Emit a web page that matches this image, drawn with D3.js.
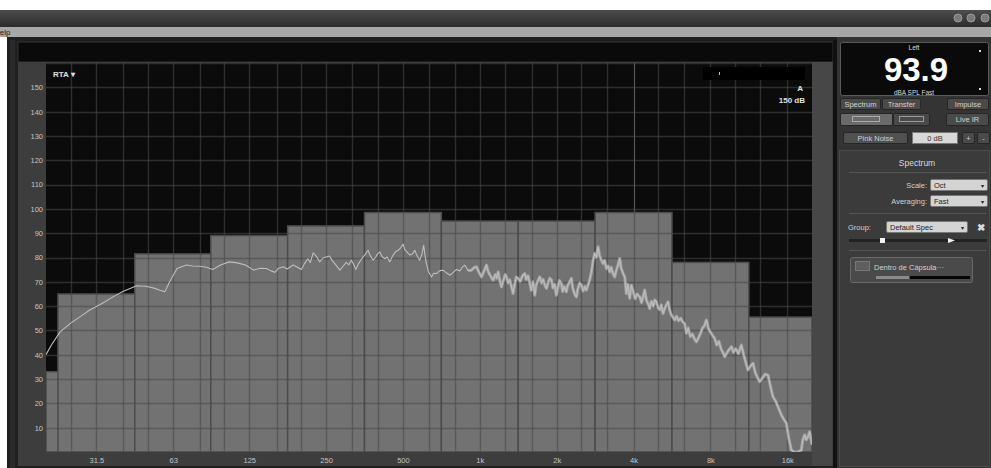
<!DOCTYPE html>
<html>
<head>
<meta charset="utf-8">
<script src="https://cdn.jsdelivr.net/npm/d3@7"></script>
<style>
  html, body { margin: 0; padding: 0; background: #ffffff; }
  svg { display: block; font-family: "Liberation Sans", Arial, sans-serif; }
</style>
</head>
<body>
<svg id="app" width="991" height="468"></svg>
<script>
// Octave band centres (Hz) and their RTA levels (dB)
const bandCenters = [16, 31.5, 63, 125, 250, 500, 1000, 2000, 4000, 8000, 16000];
const bandLevels  = [33, 65, 81.5, 89, 93, 98.5, 95, 95, 98.5, 78, 55.5];

// Frequency-axis labels and their positions
const xTickValues = [31.5, 63, 125, 250, 500, 1000, 2000, 4000, 8000, 16000];
const xTickLabels = ["31.5", "63", "125", "250", "500", "1k", "2k", "4k", "8k", "16k"];

// Level-axis labels
const yTickValues = [10, 20, 30, 40, 50, 60, 70, 80, 90, 100, 110, 120, 130, 140, 150];

// Third-octave grid frequencies
const gridFreqs = [25, 31.5, 40, 50, 63, 80, 100, 125, 160, 200, 250, 315, 400, 500, 630, 800,
  1000, 1250, 1600, 2000, 2500, 3150, 4000, 5000, 6300, 8000, 10000, 12500, 16000];

// Narrow-band spectrum trace: frequency (Hz) and level (dB)
const traceFreq = [20, 21, 22.7, 25, 27.5, 29.7, 33, 36.6, 40, 45.3, 49, 52.6, 56, 58.4, 61, 65.2, 71, 75, 80, 85,
  90, 97, 104.6, 112, 121, 130, 138, 146, 152, 157.6, 163, 169.8, 176, 185.9, 191.6, 200, 206, 212, 217, 222.5,
  229, 236, 243, 250, 258, 265, 272, 283, 292, 300, 307, 314, 320, 327, 335, 345, 355, 365, 372, 382,
  390, 398, 406, 414, 425, 434, 444, 455, 468, 480, 490, 500.8, 508, 516, 532, 545, 556, 569, 582, 592,
  603, 610, 618, 630, 647, 660, 676, 695, 718, 740, 763, 785, 810, 835, 855, 873, 900, 928, 950, 970,
  992, 1015, 1040, 1062, 1080, 1100, 1128, 1150, 1165, 1180, 1198, 1216, 1240, 1258, 1272, 1290, 1310, 1330, 1350, 1370,
  1390, 1413, 1440, 1470, 1500, 1520, 1545, 1570, 1590, 1615, 1642, 1660, 1690, 1717, 1745, 1770, 1800, 1824, 1850, 1880,
  1908, 1935, 1960, 1995, 2020, 2050, 2087, 2110, 2140, 2183, 2210, 2250, 2285, 2310, 2350, 2390, 2420, 2460, 2500, 2540,
  2580, 2615, 2650, 2690, 2736, 2775, 2819, 2860, 2905, 2950, 2990, 3039, 3080, 3130, 3180, 3227, 3270, 3320, 3376, 3420,
  3480, 3532, 3580, 3640, 3695, 3750, 3800, 3865, 3924, 3990, 4060, 4130, 4230, 4300, 4360, 4424, 4490, 4560, 4628, 4700,
  4780, 4840, 4913, 4990, 5070, 5140, 5220, 5300, 5380, 5460, 5540, 5620, 5700, 5800, 5900, 6000, 6120, 6230, 6342, 6441,
  6550, 6680, 6800, 6930, 7053, 7190, 7330, 7450, 7580, 7717, 7850, 7980, 8150, 8315, 8480, 8640, 8800, 8950, 9101, 9250,
  9450, 9669, 9850, 10050, 10300, 10580, 10800, 11000, 11232, 11500, 11749, 12000, 12250, 12480, 12800, 13100, 13450, 13750, 14067, 14400,
  14800, 15170, 15500, 15870, 16200, 16600, 17000, 17600, 18170, 18400, 18720, 19000, 19290, 19580, 20000];
const traceDb = [40, 44, 49.4, 53, 56, 58.4, 61, 63.8, 66, 68.4, 68.2, 67.5, 66.5, 65.9, 70, 75.5, 76.9, 76.5, 76.4, 76,
  75.1, 77, 78.2, 77.8, 76.9, 74.8, 75.6, 75.5, 74.5, 73.9, 75.6, 76.2, 75.3, 76.9, 76.2, 75.1, 77.5, 79.5, 78, 81.9,
  80.5, 78.2, 79.8, 80.2, 80.6, 78.5, 77.2, 74.8, 76.5, 78, 77, 78.9, 77.3, 75.1, 77.5, 79.5, 81.2, 83, 80.8, 78.9,
  80, 81.5, 82.3, 80.4, 79.5, 80.2, 78.2, 80.5, 82.5, 83, 84, 85.5, 83.2, 82.5, 81, 81.5, 83, 80.5, 78.9, 81,
  85, 81, 77.5, 74, 72, 73.5, 73.4, 74.5, 74.8, 73.7, 72.7, 73.8, 75.1, 74.5, 76, 76.9, 74.6, 74.8, 75.8, 76.2,
  74, 72, 74.5, 76.9, 74, 72.5, 70.7, 73, 71.5, 74.1, 70.5, 67.9, 71, 73, 72, 69.5, 70.8, 68, 65.2, 69,
  72, 71.4, 70.2, 72.5, 73.4, 71, 72.5, 69.3, 66.5, 70, 64.5, 68.5, 70.5, 72, 69.5, 71, 68.5, 67.3, 69.5, 71.5,
  70.7, 67.5, 69, 64.5, 67.5, 70.5, 69.3, 66, 68, 65.9, 68.5, 70, 71.4, 67.5, 65, 63.8, 67, 69.5, 68.6, 66.2,
  68, 66.6, 68.5, 70.5, 74.1, 78.5, 81.7, 80, 84.4, 80.5, 79, 77.5, 78.8, 75.5, 76.5, 74.1, 76, 73.5, 72, 74.5,
  77, 79.6, 75.5, 73.5, 72, 65.2, 69, 63.2, 68.6, 66, 63, 65, 63.8, 61.5, 64, 66.6, 62.5, 61, 59, 62,
  60, 62.5, 61.8, 59.5, 58.5, 60.5, 57, 59, 60.5, 61.8, 58.5, 56.5, 55.5, 54.3, 55.8, 54, 55, 53.5, 52.9, 48.8,
  51, 47.5, 48.5, 46.5, 45.3, 47, 49, 51, 52, 54.3, 51, 49.5, 48, 46.7, 44, 45.5, 42.5, 41, 39.2, 40.5,
  42, 43.3, 41, 42.5, 40.5, 44, 40, 37, 33.7, 35.5, 36.5, 32.5, 30.5, 28.9, 30.5, 32, 31.6, 27, 22.7, 21,
  18, 15.2, 13.5, 11.8, 6, 0.8, 0, 0, 0.8, 5, 7, 5, 6.3, 8.3, 3];

// Cursor frequency shown on the RTA plot
const cursorFreq = 4000;

// Above this frequency the trace is dense and drawn as a wider band
const denseFrom = 900;

const svg = d3.select("#app");

// ---------- window chrome ----------
const defs = svg.append("defs");
const chromeGrad = defs.append("linearGradient")
  .attr("id", "titleGrad").attr("x1", 0).attr("y1", 0).attr("x2", 0).attr("y2", 1);
chromeGrad.append("stop").attr("offset", "0%").attr("stop-color", "#4d4d4d");
chromeGrad.append("stop").attr("offset", "100%").attr("stop-color", "#2b2b2b");

svg.append("rect").attr("x", 0).attr("y", 0).attr("width", 991).attr("height", 468).attr("fill", "#ffffff");
svg.append("rect").attr("x", 0).attr("y", 10).attr("width", 991).attr("height", 17).attr("fill", "url(#titleGrad)");
[958, 971, 985].forEach(cx => {
  svg.append("circle").attr("cx", cx).attr("cy", 18).attr("r", 4)
    .attr("fill", "#7a7a7a").attr("stroke", "#9a9a9a").attr("stroke-width", 1);
});
svg.append("rect").attr("x", 0).attr("y", 27).attr("width", 991).attr("height", 10).attr("fill", "#a7a7a7");
svg.append("text").attr("x", -6).attr("y", 35).attr("font-size", 8).attr("fill", "#222").text("Help");

// application body
svg.append("rect").attr("x", 7).attr("y", 37).attr("width", 984).attr("height", 431).attr("fill", "#1f1f1f");
svg.append("rect").attr("x", 10).attr("y", 40).attr("width", 5).attr("height", 428).attr("fill", "#2a2a2a");

// ---------- RTA plot ----------
const plot = { left: 46, right: 812, top: 63, bottom: 452 };

const x = d3.scaleLog().domain([20, 20000]).range([plot.left, plot.right]);
const y = d3.scaleLinear().domain([0, 160]).range([plot.bottom, plot.top]);

// frame around the plot (header bar + axis strips)
svg.append("rect").attr("x", 18).attr("y", 42).attr("width", 815).attr("height", 20)
  .attr("fill", "#0a0a0a").attr("stroke", "#333").attr("stroke-width", 1);
svg.append("rect").attr("x", 18).attr("y", 62).attr("width", 815).attr("height", 404).attr("fill", "#3d3d3d");
svg.append("rect").attr("x", plot.right).attr("y", 62).attr("width", 20).attr("height", 404).attr("fill", "#474747");
svg.append("rect").attr("x", 833).attr("y", 40).attr("width", 4).attr("height", 428).attr("fill", "#111");

// plot background
svg.append("rect").attr("x", plot.left).attr("y", plot.top)
  .attr("width", plot.right - plot.left).attr("height", plot.bottom - plot.top).attr("fill", "#0b0b0b");

defs.append("clipPath").attr("id", "plotClip").append("rect")
  .attr("x", plot.left).attr("y", plot.top)
  .attr("width", plot.right - plot.left).attr("height", plot.bottom - plot.top);

const g = svg.append("g").attr("clip-path", "url(#plotClip)");

// octave-band bars
const bands = bandCenters.map((c, i) => ({
  lo: Math.max(20, c / Math.SQRT2),
  hi: Math.min(20000, c * Math.SQRT2),
  level: bandLevels[i]
}));
g.selectAll("rect.band").data(bands).join("rect")
  .attr("class", "band")
  .attr("x", d => x(d.lo))
  .attr("y", d => y(d.level))
  .attr("width", d => x(d.hi) - x(d.lo))
  .attr("height", d => y(0) - y(d.level))
  .attr("fill", "#727272")
  .attr("stroke", "#4c4c4c")
  .attr("stroke-width", 1.5);

// grid, drawn over the bars so it reads on both black and grey
const gridColor = "rgba(72,72,72,0.58)";
g.selectAll("line.vgrid").data(gridFreqs).join("line")
  .attr("class", "vgrid")
  .attr("x1", d => Math.round(x(d)) + 0.5).attr("x2", d => Math.round(x(d)) + 0.5)
  .attr("y1", plot.top).attr("y2", plot.bottom)
  .attr("stroke", gridColor).attr("stroke-width", 1.4);
g.selectAll("line.hgrid").data(d3.range(10, 161, 10)).join("line")
  .attr("class", "hgrid")
  .attr("x1", plot.left).attr("x2", plot.right)
  .attr("y1", d => Math.round(y(d)) + 0.5).attr("y2", d => Math.round(y(d)) + 0.5)
  .attr("stroke", gridColor).attr("stroke-width", 1.4);

// cursor marker at 4 kHz, above its band
const cursorBand = bands[bandCenters.indexOf(cursorFreq)];
g.append("line")
  .attr("x1", Math.round(x(cursorFreq)) + 0.5).attr("x2", Math.round(x(cursorFreq)) + 0.5)
  .attr("y1", plot.top).attr("y2", y(cursorBand.level))
  .attr("stroke", "#575757").attr("stroke-width", 1);

// spectrum trace
const trace = traceFreq.map((f, i) => [f, traceDb[i]]);
const lineGen = d3.line().x(d => x(d[0])).y(d => y(d[1]));
g.append("path").datum(trace.filter(d => d[0] >= denseFrom))
  .attr("fill", "none")
  .attr("stroke", "#c9c9c9")
  .attr("stroke-opacity", 0.55)
  .attr("stroke-width", 3)
  .attr("stroke-linejoin", "round")
  .attr("d", lineGen);
g.append("path").datum(trace)
  .attr("fill", "none")
  .attr("stroke", "#bdbdbd")
  .attr("stroke-width", 1.1)
  .attr("stroke-linejoin", "round")
  .attr("d", lineGen);

// axes
const yAxis = svg.append("g").attr("transform", `translate(${plot.left - 3},0)`)
  .call(d3.axisLeft(y).tickValues(yTickValues).tickSize(0).tickPadding(0));
const xAxis = svg.append("g").attr("transform", `translate(0,${plot.bottom + 1})`)
  .call(d3.axisBottom(x).tickValues(xTickValues).tickSize(0).tickPadding(5)
    .tickFormat((d, i) => xTickLabels[i]));
[yAxis, xAxis].forEach(a => {
  a.select(".domain").remove();
  a.selectAll("text").attr("fill", "#c4c4c4").attr("font-size", 7.5)
    .attr("font-family", "'Liberation Sans', Arial, sans-serif");
});

// in-plot annotations
svg.append("text").attr("x", 53).attr("y", 77).attr("font-size", 8).attr("font-weight", "bold")
  .attr("fill", "#e0e0e0").text("RTA ▾");
svg.append("rect").attr("x", 703).attr("y", 67).attr("width", 102).attr("height", 13).attr("fill", "#000");
svg.append("rect").attr("x", 719).attr("y", 72).attr("width", 1).attr("height", 3).attr("fill", "#bbb");
svg.append("text").attr("x", 803).attr("y", 91).attr("text-anchor", "end").attr("font-size", 8)
  .attr("font-weight", "bold").attr("fill", "#e0e0e0").text("A");
svg.append("text").attr("x", 805).attr("y", 103).attr("text-anchor", "end").attr("font-size", 8)
  .attr("font-weight", "bold").attr("fill", "#e0e0e0").text("150 dB");

// ---------- right-hand control panel ----------
const panel = svg.append("g");
panel.append("rect").attr("x", 837).attr("y", 37).attr("width", 154).attr("height", 431).attr("fill", "#343434");

// level readout
panel.append("rect").attr("x", 840.5).attr("y", 42.5).attr("width", 148).attr("height", 53).attr("rx", 2)
  .attr("fill", "#0a0a0a").attr("stroke", "#5a5a5a");
panel.append("text").attr("x", 914).attr("y", 50).attr("text-anchor", "middle").attr("font-size", 6.5)
  .attr("fill", "#ddd").text("Left");
panel.append("text").attr("x", 916).attr("y", 81).attr("text-anchor", "middle").attr("font-size", 33)
  .attr("font-weight", "bold").attr("fill", "#fff").text("93.9");
panel.append("text").attr("x", 914).attr("y", 94.5).attr("text-anchor", "middle").attr("font-size", 6.5)
  .attr("fill", "#ddd").text("dBA SPL Fast");
panel.append("rect").attr("x", 979).attr("y", 50).attr("width", 2).attr("height", 2).attr("fill", "#ddd");
panel.append("rect").attr("x", 979).attr("y", 88).attr("width", 2).attr("height", 2).attr("fill", "#ddd");

// helper for flat buttons
function button(x0, y0, w, h, label, fill, txt) {
  panel.append("rect").attr("x", x0 + 0.5).attr("y", y0 + 0.5).attr("width", w).attr("height", h)
    .attr("rx", 1.5).attr("fill", fill).attr("stroke", "#262626");
  if (label) panel.append("text").attr("x", x0 + w / 2 + 0.5).attr("y", y0 + h / 2 + 3)
    .attr("text-anchor", "middle").attr("font-size", 7.5).attr("fill", txt || "#d0d0d0").text(label);
}
button(840, 98, 40, 11, "Spectrum", "#4a4a4a");
button(882, 98, 38, 11, "Transfer", "#4a4a4a");
button(947, 98, 41, 11, "Impulse", "#4a4a4a");

button(840, 113, 52, 12, "", "#6a6a6a");
panel.append("rect").attr("x", 852.5).attr("y", 116.5).attr("width", 27).attr("height", 5)
  .attr("fill", "none").attr("stroke", "#aaa");
button(893, 113, 36, 12, "", "#4a4a4a");
panel.append("rect").attr("x", 899.5).attr("y", 116.5).attr("width", 24).attr("height", 5)
  .attr("fill", "none").attr("stroke", "#999");
button(946, 113, 42, 12, "Live IR", "#4a4a4a");

button(843, 132, 64, 11, "Pink Noise", "#505050");
panel.append("rect").attr("x", 912.5).attr("y", 132.5).attr("width", 45).attr("height", 11)
  .attr("fill", "#d8d8d8").attr("stroke", "#777");
panel.append("text").attr("x", 935).attr("y", 141).attr("text-anchor", "middle").attr("font-size", 7.5)
  .attr("fill", "#333").text("0 dB");
button(962, 132, 12, 11, "+", "#4a4a4a");
button(977, 132, 12, 11, "-", "#4a4a4a");

// spectrum settings group
panel.append("rect").attr("x", 839.5).attr("y", 150.5).attr("width", 150).attr("height", 316)
  .attr("fill", "#3b3b3b").attr("stroke", "#4a4a4a");
panel.append("text").attr("x", 917).attr("y", 166).attr("text-anchor", "middle").attr("font-size", 8.5)
  .attr("fill", "#d8d8d8").text("Spectrum");
[172, 213, 250].forEach(yy => {
  panel.append("line").attr("x1", 849).attr("x2", 987).attr("y1", yy + 0.5).attr("y2", yy + 0.5)
    .attr("stroke", "#555");
});

function dropdown(x0, y0, w, label) {
  panel.append("rect").attr("x", x0 + 0.5).attr("y", y0 + 0.5).attr("width", w).attr("height", 11)
    .attr("rx", 1.5).attr("fill", "#d4d4d4").attr("stroke", "#777");
  panel.append("text").attr("x", x0 + 4).attr("y", y0 + 9).attr("font-size", 7.5).attr("fill", "#222").text(label);
  panel.append("text").attr("x", x0 + w - 6).attr("y", y0 + 9).attr("font-size", 6).attr("fill", "#222").text("▾");
}
panel.append("text").attr("x", 927).attr("y", 188).attr("text-anchor", "end").attr("font-size", 7.5)
  .attr("fill", "#d0d0d0").text("Scale:");
dropdown(930, 179, 57, "Oct");
panel.append("text").attr("x", 927).attr("y", 204).attr("text-anchor", "end").attr("font-size", 7.5)
  .attr("fill", "#d0d0d0").text("Averaging:");
dropdown(930, 195, 57, "Fast");

panel.append("text").attr("x", 848).attr("y", 230).attr("font-size", 7.5).attr("fill", "#d0d0d0").text("Group:");
dropdown(886, 221, 81, "Default Spec");
panel.append("text").attr("x", 981).attr("y", 231).attr("text-anchor", "middle").attr("font-size", 10)
  .attr("font-weight", "bold").attr("fill", "#ddd").text("✖");

panel.append("line").attr("x1", 849).attr("x2", 987).attr("y1", 240.5).attr("y2", 240.5)
  .attr("stroke", "#222").attr("stroke-width", 3);
panel.append("rect").attr("x", 880).attr("y", 238).attr("width", 5).attr("height", 5).attr("fill", "#f2f2f2");
panel.append("path").attr("d", "M948,238 L955,240.5 L948,243 Z").attr("fill", "#f2f2f2");

// measurement entry
panel.append("rect").attr("x", 850.5).attr("y", 257.5).attr("width", 122).attr("height", 25).attr("rx", 2)
  .attr("fill", "#4a4a4a").attr("stroke", "#6a6a6a");
panel.append("rect").attr("x", 855.5).attr("y", 261.5).attr("width", 14).attr("height", 9)
  .attr("fill", "#5e5e5e").attr("stroke", "#777");
panel.append("text").attr("x", 874).attr("y", 270).attr("font-size", 7.5).attr("fill", "#d0d0d0")
  .text("Dentro de Cápsula···");
panel.append("rect").attr("x", 876).attr("y", 276).attr("width", 33).attr("height", 3).attr("fill", "#8a8a8a");
panel.append("rect").attr("x", 910).attr("y", 276).attr("width", 60).attr("height", 3).attr("fill", "#050505");
</script>
</body>
</html>
